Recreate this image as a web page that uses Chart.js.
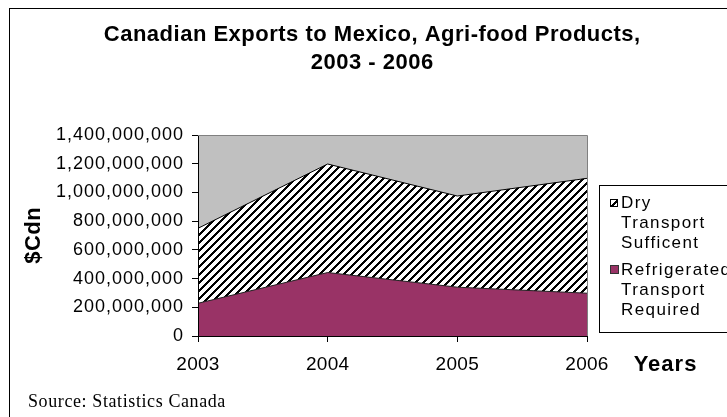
<!DOCTYPE html>
<html>
<head>
<meta charset="utf-8">
<script src="https://cdn.jsdelivr.net/npm/chart.js@4.4.1/dist/chart.umd.min.js"></script>
<style>
  html, body { margin: 0; padding: 0; background: #fff; }
  #wrap { width: 727px; height: 417px; }
</style>
</head>
<body>
<div id="wrap"><canvas id="c" width="727" height="417"></canvas></div>
<script>
// ---- data ----
const years = ['2003', '2004', '2005', '2006'];
const refrigerated = [228000000, 442000000, 340000000, 298000000];
const dry = [522000000, 756000000, 635000000, 800000000];
const yTickValues = [0, 200000000, 400000000, 600000000, 800000000, 1000000000, 1200000000, 1400000000];
const yTickLabels = ['0', '200,000,000', '400,000,000', '600,000,000', '800,000,000', '1,000,000,000', '1,200,000,000', '1,400,000,000'];
const titleLines = ['Canadian Exports to Mexico, Agri-food Products,', '2003 - 2006'];
const legendDry = ['Dry', 'Transport', 'Sufficent'];
const legendRef = ['Refrigerated', 'Transport', 'Required'];

const SANS = '"Liberation Sans", Arial, sans-serif';
const SERIF = '"Liberation Serif", "Times New Roman", serif';
const MAROON = '#993366';

function makeHatch() {
  const c = document.createElement('canvas');
  c.width = 8; c.height = 8;
  const g = c.getContext('2d');
  g.fillStyle = '#fff'; g.fillRect(0, 0, 8, 8);
  g.fillStyle = '#000';
  for (let y = 0; y < 8; y++) for (let x = 0; x < 8; x++) if ((x + y) % 8 < 3) g.fillRect(x, y, 1, 1);
  return g.createPattern(c, 'repeat');
}
const hatch = makeHatch();

function txt(ctx, s, x, y, font, spacing, align, baseline) {
  ctx.font = font;
  ctx.letterSpacing = spacing + 'px';
  ctx.textAlign = align;
  ctx.textBaseline = baseline;
  let dx = 0;
  if (align === 'center') dx = spacing / 2;
  ctx.fillText(s, x + dx, y);
}

const decor = {
  id: 'decor',
  beforeDraw(chart) {
    const ctx = chart.ctx, a = chart.chartArea;
    ctx.save();
    ctx.fillStyle = '#fff';
    ctx.fillRect(0, 0, chart.width, chart.height);
    ctx.strokeStyle = '#000';
    ctx.lineWidth = 1;
    ctx.strokeRect(9.5, 8.5, 800, 500);
    ctx.fillStyle = '#C0C0C0';
    ctx.fillRect(a.left, a.top, a.right - a.left, a.bottom - a.top);
    ctx.restore();
    ctx.letterSpacing = '1px';
  },
  afterDatasetsDraw(chart) {
    chart.ctx.letterSpacing = '0.3px';
  },
  afterDraw(chart) {
    const ctx = chart.ctx, a = chart.chartArea;
    ctx.save();
    // plot area top/right border
    ctx.strokeStyle = '#808080';
    ctx.lineWidth = 1;
    ctx.beginPath();
    ctx.moveTo(a.left, a.top + 0.5);
    ctx.lineTo(a.right + 0.5, a.top + 0.5);
    ctx.lineTo(a.right + 0.5, a.bottom);
    ctx.stroke();

    ctx.fillStyle = '#000';
    // title
    txt(ctx, titleLines[0], 372, 41, 'bold 22px ' + SANS, 0.5, 'center', 'alphabetic');
    txt(ctx, titleLines[1], 372, 69, 'bold 22px ' + SANS, 0.5, 'center', 'alphabetic');
    // y axis title
    ctx.save();
    ctx.translate(34, (a.top + a.bottom) / 2);
    ctx.rotate(-Math.PI / 2);
    txt(ctx, '$Cdn', 0, 0, 'bold 22px ' + SANS, 0.5, 'center', 'middle');
    ctx.restore();
    // x axis title
    txt(ctx, 'Years', 665, 365, 'bold 22px ' + SANS, 1, 'center', 'middle');
    // source
    txt(ctx, 'Source: Statistics Canada', 28, 407, '18px ' + SERIF, 0.6, 'left', 'alphabetic');

    // legend
    ctx.strokeStyle = '#000';
    ctx.lineWidth = 1;
    ctx.fillStyle = '#fff';
    ctx.fillRect(600, 186, 140, 147);
    ctx.strokeRect(599.5, 185.5, 150, 147);
    ctx.fillStyle = hatch;
    ctx.fillRect(610, 199, 8, 8);
    ctx.strokeRect(610.5, 199.5, 7, 7);
    ctx.fillStyle = MAROON;
    ctx.fillRect(611, 266, 8, 8);
    ctx.strokeStyle = '#333';
    ctx.strokeRect(610.5, 265.5, 8, 8);
    ctx.fillStyle = '#000';
    const f = '17px ' + SANS;
    legendDry.forEach((s, i) => txt(ctx, s, 621, 203 + i * 20, f, 1.4, 'left', 'middle'));
    legendRef.forEach((s, i) => txt(ctx, s, 621, 270 + i * 20, f, 1.4, 'left', 'middle'));
    ctx.restore();
    ctx.letterSpacing = '0px';
  }
};

new Chart(document.getElementById('c'), {
  type: 'line',
  data: {
    labels: years,
    datasets: [
      { label: 'Refrigerated Transport Required', data: refrigerated, backgroundColor: MAROON,
        borderColor: '#222', borderWidth: 1, fill: 'origin', pointRadius: 0, tension: 0 },
      { label: 'Dry Transport Sufficent', data: dry, backgroundColor: hatch,
        borderColor: '#000', borderWidth: 1, fill: '-1', pointRadius: 0, tension: 0 }
    ]
  },
  options: {
    responsive: false,
    animation: false,
    devicePixelRatio: 1,
    layout: { padding: { top: 135, right: 140, bottom: 0, left: 0 } },
    plugins: { legend: { display: false }, title: { display: false }, tooltip: { enabled: false } },
    scales: {
      x: {
        type: 'category',
        offset: false,
        grid: { drawOnChartArea: false, drawTicks: true, tickLength: 6, color: '#000' },
        border: { display: true, color: '#000', width: 1, z: 1 },
        ticks: { color: '#000', font: { family: SANS, size: 19 }, padding: 11, maxRotation: 0, autoSkip: false, z: 1 },
        afterFit: s => { s.height = 81; }
      },
      y: {
        stacked: true,
        min: 0,
        max: 1400000000,
        afterBuildTicks: s => { s.ticks = yTickValues.map(v => ({ value: v })); },
        grid: { drawOnChartArea: false, drawTicks: true, tickLength: 6, color: '#000' },
        border: { display: true, color: '#000', width: 1, z: 1 },
        ticks: { color: '#000', font: { family: SANS, size: 18 }, padding: 8,
                 callback: (v, i) => yTickLabels[i] },
        afterFit: s => { s.width = 198; }
      }
    }
  },
  plugins: [decor]
});
</script>
</body>
</html>
